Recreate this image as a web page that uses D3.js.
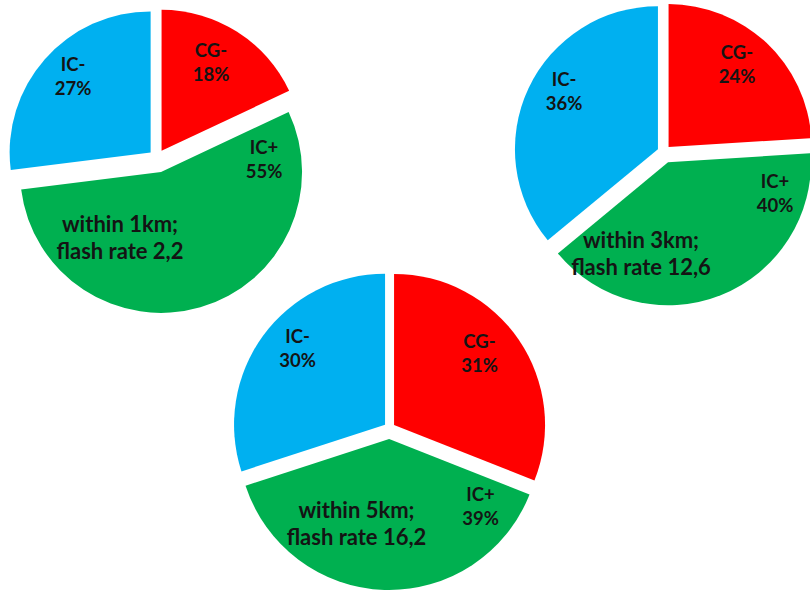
<!DOCTYPE html>
<html>
<head>
<meta charset="utf-8">
<script src="https://cdn.jsdelivr.net/npm/d3@7"></script>
<style>
  html, body { margin: 0; padding: 0; background: #fff; }
  svg { display: block; }
  text { font-family: Lato, "Open Sans", sans-serif; font-weight: 700; fill: #141414; }
</style>
</head>
<body>
<svg id="chart" width="810" height="590"></svg>
<script>
// Flash type shares (percent), ordered clockwise from 12 o'clock
const categories = ["CG-", "IC+", "IC-"];
const share1km = [18, 55, 27];
const share3km = [24, 40, 36];
const share5km = [31, 39, 30];
const distances = ["within 1km;", "within 3km;", "within 5km;"];
const flashRates = ["2,2", "12,6", "16,2"];

const colors = { "CG-": "#FF0000", "IC+": "#00B050", "IC-": "#00B0F0" };

// Placement of each pie; label offsets give the centre of the first text line
// relative to the pie centre
const layout = [
  { cx: 157, cy: 158, r: 141, explode: [8.5, 14.5, 8.5],
    labels: [[54, -107], [107, -10], [-84, -93]], note: [-37, 66] },
  { cx: 664, cy: 152, r: 143, explode: [6.7, 11, 6.7],
    labels: [[73, -99], [111, 30], [-100, -72]], note: [-23, 88] },
  { cx: 389.5, cy: 428, r: 151, explode: [5.5, 11, 5.5],
    labels: [[90, -86], [91, 67], [-92, -91]], note: [-33, 82] }
];

const shares = [share1km, share3km, share5km];
const svg = d3.select("#chart");
const pie = d3.pie().sort(null).startAngle(0).endAngle(2 * Math.PI);
const labelSize = 18.5, labelGap = 24;
const noteSize = 22, noteGap = 27;

shares.forEach((values, i) => {
  const L = layout[i];
  const arc = d3.arc().innerRadius(0).outerRadius(L.r);
  const g = svg.append("g").attr("transform", `translate(${L.cx},${L.cy})`);
  const slices = pie(values);

  g.selectAll("path")
    .data(slices)
    .join("path")
    .attr("d", arc)
    .attr("fill", (d, k) => colors[categories[k]])
    .attr("transform", (d, k) => {
      const mid = (d.startAngle + d.endAngle) / 2;
      const e = L.explode[k];
      return `translate(${e * Math.sin(mid)},${-e * Math.cos(mid)})`;
    });

  // Category name and percentage on two lines
  slices.forEach((d, k) => {
    const [dx, dy] = L.labels[k];
    const base = dy + 0.35 * labelSize;
    const t = g.append("text")
      .attr("text-anchor", "middle")
      .attr("font-size", labelSize);
    t.append("tspan").attr("x", dx).attr("y", base).text(categories[k]);
    t.append("tspan").attr("x", dx).attr("y", base + labelGap).text(values[k] + "%");
  });

  // Distance and flash rate note inside the IC+ slice
  const [nx, ny] = L.note;
  const nbase = ny + 0.35 * noteSize;
  const n = g.append("text")
    .attr("text-anchor", "middle")
    .attr("font-size", noteSize);
  n.append("tspan").attr("x", nx).attr("y", nbase).text(distances[i]);
  n.append("tspan").attr("x", nx).attr("y", nbase + noteGap).text("flash rate " + flashRates[i]);
});
</script>
</body>
</html>
